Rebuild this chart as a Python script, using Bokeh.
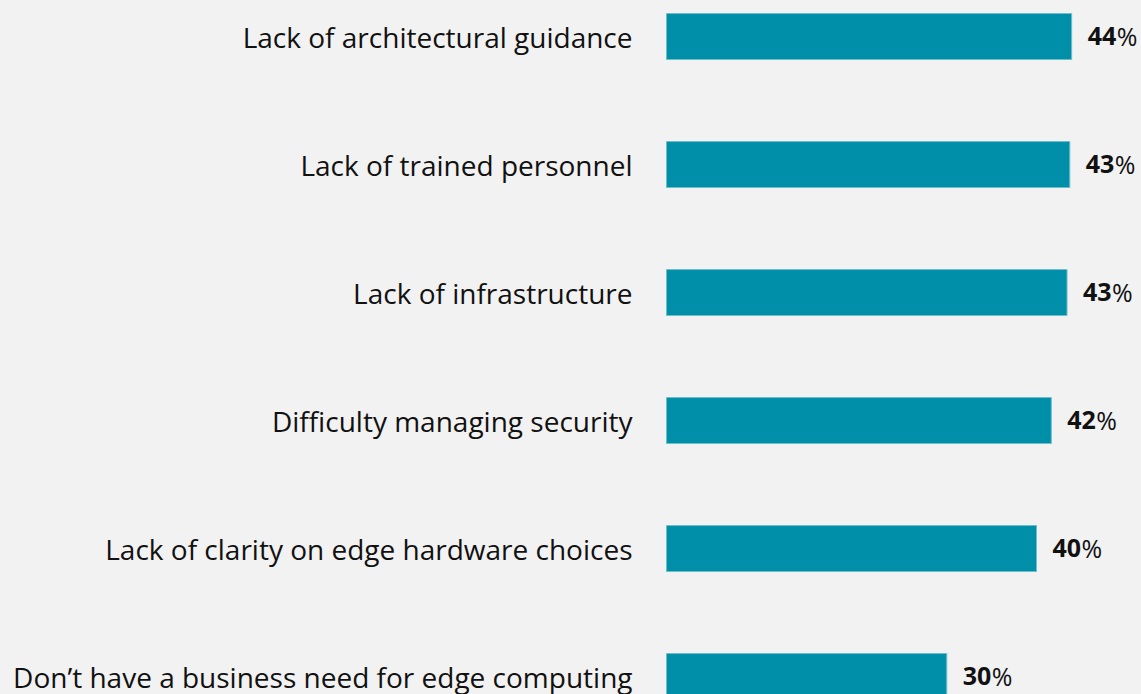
from bokeh.plotting import figure
from bokeh.models import ColumnDataSource, Range1d
from bokeh.core.properties import value
from bokeh.embed import file_html
from bokeh.resources import INLINE

categories = [
    "Lack of architectural guidance",
    "Lack of trained personnel",
    "Lack of infrastructure",
    "Difficulty managing security",
    "Lack of clarity on edge hardware choices",
    "Don\u2019t have a business need for edge computing",
]
values = [43.8, 43.6, 43.3, 41.6, 40.0, 30.3]
value_labels = ["44", "43", "43", "42", "40", "30"]

BG = "#f2f2f2"
BAR = "#008fa8"

W, H = 1141, 694
x0_px = 666.0
px_per_unit = 9.25
row_px = 128.0
first_center_px = 36.0

pos = list(range(len(categories)))
src = ColumnDataSource(dict(
    y=pos, v=values, cat=categories, lab=value_labels,
    pct=["%"] * len(pos),
))

p = figure(width=W, height=H, output_backend="svg", toolbar_location=None,
           x_range=Range1d(-x0_px / px_per_unit, (W - x0_px) / px_per_unit),
           y_range=Range1d((H - first_center_px) / row_px,
                           -first_center_px / row_px),
           min_border=0, background_fill_color=BG, border_fill_color=BG,
           outline_line_color=None)
p.axis.visible = False
p.grid.visible = False

p.hbar(y="y", left=0, right="v", height=46 / row_px, source=src,
       fill_color=BAR, line_color="#6fbccb", line_width=1)

p.text(x=0, y="y", text="cat", source=src, text_align="right",
       text_baseline="middle", x_offset=-34, y_offset=0,
       text_font=value("Open Sans"), text_font_size="28px", text_color="#111111")

p.text(x="v", y="y", text="lab", source=src, text_align="left",
       text_baseline="middle", x_offset=16, y_offset=-1,
       text_font=value("Open Sans"), text_font_style="bold",
       text_font_size="25px", text_color="#111111")
p.text(x="v", y="y", text="pct", source=src, text_align="left",
       text_baseline="middle", x_offset=45, y_offset=-1,
       text_font=value("Open Sans"),
       text_font_size="25px", text_color="#111111")

html = file_html(p, INLINE)
html = html.replace("</head>", "<style>html,body{margin:0;padding:0;background:%s;overflow:hidden;}</style></head>" % BG)
open("out.html", "w").write(html)
